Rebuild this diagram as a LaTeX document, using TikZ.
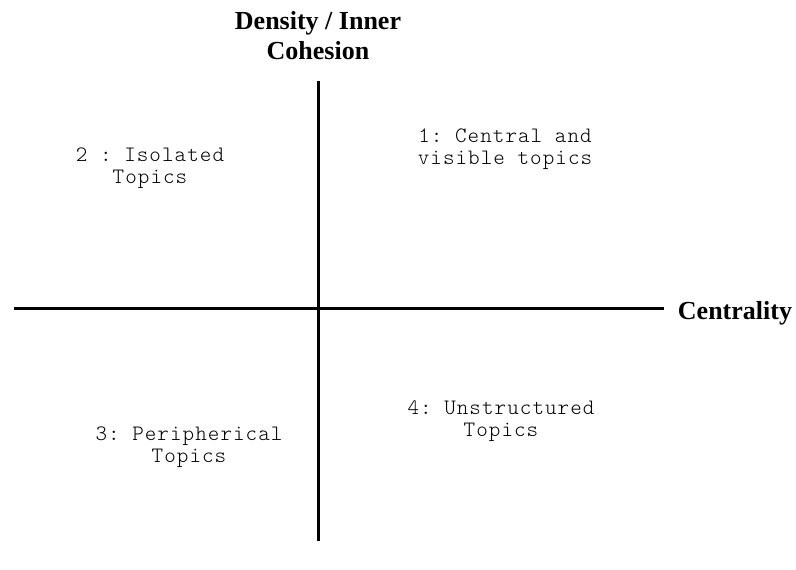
\documentclass[tikz,border=0pt]{standalone}
\usepackage{fontspec}
\setmainfont{Liberation Serif}
\newfontfamily\quadfont[LetterSpace=4.8]{Latin Modern Mono Light}
\usepackage{tikz}
\frenchspacing

\begin{document}
\begin{tikzpicture}[x=1pt, y=-1pt,
	axis/.style = {line width = 3pt},
	axislabel/.style = {font = \fontsize{26}{30}\selectfont\bfseries, align = center, inner sep = 0pt},
	quadrant/.style = {font = \quadfont\fontsize{22}{22.5}\selectfont, align = center, inner sep = 0pt}]
			\useasboundingbox (0,0) rectangle (796,570);
			\coordinate (top) at (318,81);
			\coordinate (bottom) at (318,541);
			\coordinate (left) at (14,308);
			\coordinate (right) at (664,308);
			\node (density) at (318,36) [axislabel] {Density / Inner\\Cohesion};
			\node (centrality) at (735,313) [axislabel] {Centrality};
			\node (q1) at (505,149) [quadrant] {1: Central and\\visible topics};
			\node (q2) at (150,168) [quadrant] {2 : Isolated\\Topics};
			\node (q3) at (189,447) [quadrant] {3: Peripherical\\Topics};
			\node (q4) at (501,421) [quadrant] {4: Unstructured\\Topics};
			\draw[axis] (top) -- (bottom);
			\draw[axis] (left) -- (right);
			\end{tikzpicture}
\end{document}
